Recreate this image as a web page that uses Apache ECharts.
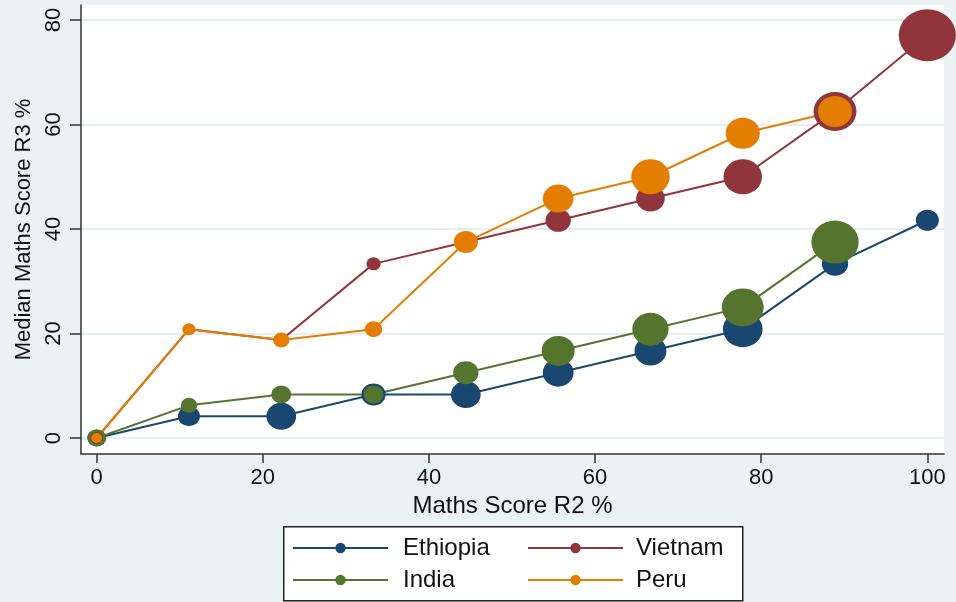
<!DOCTYPE html>
<html>
<head>
<meta charset="utf-8">
<script src="https://cdn.jsdelivr.net/npm/echarts@6/dist/echarts.min.js"></script>
<style>
  html, body { margin: 0; padding: 0; background: #eaf2f3; }
  #chart { width: 956px; height: 602px; }
</style>
</head>
<body>
<div id="chart"></div>
<script>
// Round 2 maths score (%) on the x axis
const scoreR2 = [0, 11.11, 22.22, 33.33, 44.44, 55.56, 66.67, 77.78, 88.89, 100];

// Median round 3 maths score (%) per country
const ethiopia = [0, 4.17, 4.17, 8.33, 8.33, 12.5, 16.67, 20.83, 33.33, 41.67];
const india    = [0, 6.25, 8.33, 8.33, 12.5, 16.67, 20.83, 25, 37.5];
const vietnam  = [0, 20.83, 18.75, 33.33, 37.5, 41.67, 45.83, 50, 62.5, 77.08];
const peru     = [0, 20.83, 18.75, 20.83, 37.5, 45.83, 50, 58.33, 62.5];

// Marker weights (number of children at each point, drawn as marker size)
const ethiopiaW = [17, 20, 27, 22, 27, 28, 29, 36, 24, 21];
const indiaW    = [17, 15, 18, 18, 23, 30, 33, 38, 43];
const vietnamW  = [12, 10, 12, 13, 18, 23, 26, 35, 39, 52];
const peruW     = [10, 12, 15, 16, 22, 28, 35, 31, 31];

const xTicks = [0, 20, 40, 60, 80, 100];
const yTicks = [0, 20, 40, 60, 80];

const FONT = '"Liberation Sans", Arial, sans-serif';

function makeSeries(name, values, weights, color) {
  return {
    name: name,
    type: 'line',
    data: values.map((v, i) => [scoreR2[i], v]),
    symbol: 'circle',
    symbolSize: (val, p) => [weights[p.dataIndex] * 1.1, weights[p.dataIndex]],
    showAllSymbol: true,
    clip: false,
    lineStyle: { color: color, width: 2 },
    itemStyle: { color: color },
    emphasis: { disabled: true }
  };
}

const chart = echarts.init(document.getElementById('chart'));
chart.setOption({
  animation: false,
  backgroundColor: '#eaf2f3',
  textStyle: { fontFamily: FONT },
  grid: {
    show: true,
    left: 81, right: 12, top: 5, bottom: 148,
    backgroundColor: '#ffffff',
    borderWidth: 0
  },
  xAxis: {
    type: 'value',
    min: -1.89, max: 102.01,
    name: 'Maths Score R2 %',
    nameLocation: 'middle',
    nameGap: 34,
    nameTextStyle: { fontSize: 24, color: '#111', fontFamily: FONT },
    axisLine: { show: true, onZero: false, lineStyle: { color: '#333', width: 1.5 } },
    axisTick: { show: true, length: 9, customValues: xTicks, lineStyle: { color: '#333', width: 1.5 } },
    axisLabel: { customValues: xTicks, fontSize: 22, color: '#111', margin: 13, fontFamily: FONT },
    splitLine: { show: false }
  },
  yAxis: {
    type: 'value',
    min: -3.06, max: 82.87,
    name: 'Median Maths Score R3 %',
    nameLocation: 'middle',
    nameGap: 46,
    nameTextStyle: { fontSize: 22, color: '#111', fontFamily: FONT },
    axisLine: { show: true, onZero: false, lineStyle: { color: '#333', width: 1.5 } },
    axisTick: { show: true, length: 11, customValues: yTicks, lineStyle: { color: '#333', width: 1.5 } },
    axisLabel: { customValues: yTicks, rotate: 90, fontSize: 22, color: '#111', margin: 16, fontFamily: FONT },
    splitLine: { show: true, lineStyle: { color: '#e6eef1', width: 2 } }
  },
  graphic: [{
    type: 'rect',
    left: 283, top: 526,
    z: 1,
    shape: { width: 459, height: 74 },
    style: { fill: '#ffffff', stroke: '#222', lineWidth: 1.5 }
  }],
  legend: [{
    data: ['Ethiopia', 'India'],
    orient: 'vertical',
    left: 292, top: 536,
    padding: 0,
    itemWidth: 95, itemHeight: 13, itemGap: 8,
    textStyle: { fontSize: 24, color: '#111', padding: [0, 0, 0, 10], fontFamily: FONT }
  }, {
    data: ['Vietnam', 'Peru'],
    orient: 'vertical',
    left: 527, top: 536,
    padding: 0,
    itemWidth: 95, itemHeight: 13, itemGap: 8,
    textStyle: { fontSize: 24, color: '#111', padding: [0, 0, 0, 8], fontFamily: FONT }
  }],
  series: [
    makeSeries('Ethiopia', ethiopia, ethiopiaW, '#1a476f'),
    makeSeries('India', india, indiaW, '#55752f'),
    makeSeries('Vietnam', vietnam, vietnamW, '#90353b'),
    makeSeries('Peru', peru, peruW, '#e37e00')
  ]
});
</script>
</body>
</html>
